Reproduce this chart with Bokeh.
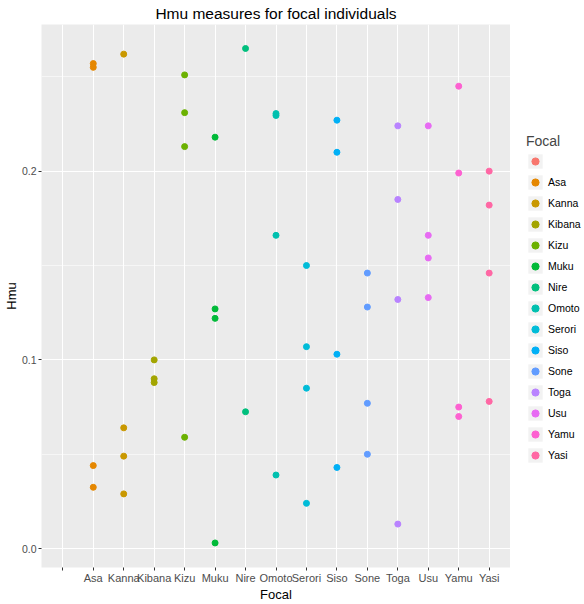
from bokeh.plotting import figure
from bokeh.layouts import row
from bokeh.models import FactorRange, Range1d, FixedTicker, Legend, LegendItem
from bokeh.embed import file_html
from bokeh.resources import INLINE
from bokeh.core.properties import value

categories = [" ", "Asa", "Kanna", "Kibana", "Kizu", "Muku", "Nire", "Omoto",
              "Serori", "Siso", "Sone", "Toga", "Usu", "Yamu", "Yasi"]
colors = ["#F8766D", "#E58700", "#C99800", "#A3A500", "#6BB100", "#00BA38",
          "#00BF7D", "#00C0AF", "#00BCD8", "#00B0F6", "#619CFF", "#B983FF",
          "#E76BF3", "#FD61D1", "#FF67A4"]

focal = (["Asa"] * 4 + ["Kanna"] * 4 + ["Kibana"] * 3 + ["Kizu"] * 4 +
         ["Muku"] * 4 + ["Nire"] * 2 + ["Omoto"] * 4 + ["Serori"] * 4 +
         ["Siso"] * 4 + ["Sone"] * 4 + ["Toga"] * 4 + ["Usu"] * 4 +
         ["Yamu"] * 4 + ["Yasi"] * 4)
hmu = [0.257, 0.255, 0.044, 0.0325,
       0.262, 0.064, 0.049, 0.029,
       0.100, 0.090, 0.088,
       0.251, 0.231, 0.213, 0.059,
       0.218, 0.127, 0.122, 0.003,
       0.265, 0.0725,
       0.2305, 0.2295, 0.166, 0.039,
       0.150, 0.107, 0.085, 0.024,
       0.227, 0.210, 0.103, 0.043,
       0.146, 0.128, 0.077, 0.050,
       0.224, 0.185, 0.132, 0.013,
       0.224, 0.166, 0.154, 0.133,
       0.245, 0.199, 0.075, 0.070,
       0.200, 0.182, 0.146, 0.078]

y_ticks = [0.0, 0.1, 0.2]
y_minor = [0.05, 0.15, 0.25]
y_tick_labels = ["0.0", "0.1", "0.2"]

FONT = "Liberation Sans"
NAN = float("nan")

p = figure(width=510, height=604, output_backend="svg", toolbar_location=None,
           x_range=FactorRange(factors=categories, range_padding=0.2,
                               range_padding_units="absolute"),
           y_range=Range1d(-0.0100, 0.2777),
           title="Hmu measures for focal individuals",
           min_border_left=38, min_border_right=0, min_border_top=24,
           min_border_bottom=0)

p.background_fill_color = "#EBEBEB"
p.border_fill_color = "white"
p.outline_line_color = None

p.title.align = "center"
p.title.text_font = FONT
p.title.text_font_size = "15.5px"
p.title.text_font_style = "normal"
p.title.text_color = "black"
p.title.standoff = 5

p.yaxis.ticker = FixedTicker(ticks=y_ticks, minor_ticks=y_minor)
p.yaxis.major_label_overrides = {t: l for t, l in zip(y_ticks, y_tick_labels)}

for ax in (p.xaxis[0], p.yaxis[0]):
    ax.axis_line_color = None
    ax.major_tick_line_color = "#333333"
    ax.major_tick_out = 3
    ax.major_tick_in = 0
    ax.minor_tick_line_color = None
    ax.major_label_text_font = FONT
    ax.major_label_text_font_size = "11px"
    ax.major_label_text_color = "#4D4D4D"
    ax.major_label_text_line_height = 1.0
    ax.major_label_standoff = 1
    ax.axis_label_text_font = FONT
    ax.axis_label_text_font_size = "13px"
    ax.axis_label_text_font_style = "normal"
    ax.axis_label_text_color = "black"
    ax.axis_label_text_line_height = 1.0
    ax.axis_label_standoff = 0

p.yaxis.major_label_text_font_size = "10.5px"
p.xaxis.axis_label = "Focal"
p.yaxis.axis_label = "Hmu"

p.xgrid.grid_line_color = "white"
p.xgrid.grid_line_width = 1.1
p.ygrid.grid_line_color = "white"
p.ygrid.grid_line_width = 1.1
p.ygrid.minor_grid_line_color = "white"
p.ygrid.minor_grid_line_width = 0.55

for cat, col in zip(categories, colors):
    xs = [f for f in focal if f == cat]
    ys = [h for f, h in zip(focal, hmu) if f == cat]
    if xs:
        p.scatter(x=xs, y=ys, size=6, fill_color=col, line_color=col)

# legend panel
lg = figure(width=74, height=604, output_backend="svg", toolbar_location=None,
            x_range=Range1d(0, 1), y_range=Range1d(0, 1),
            x_axis_type=None, y_axis_type=None,
            min_border_left=0, min_border_right=0, min_border_top=0,
            min_border_bottom=0)
lg.grid.visible = False
lg.outline_line_color = None
lg.background_fill_color = "white"
lg.border_fill_color = "white"

items = []
for cat, col in zip(categories, colors):
    bg = lg.quad(left=[NAN], right=[NAN], top=[NAN], bottom=[NAN],
                 fill_color="#F2F2F2", line_color=None)
    r = lg.scatter(x=[NAN], y=[NAN], size=6, fill_color=col, line_color=col)
    items.append(LegendItem(label=value(cat), renderers=[bg, r]))

legend = Legend(items=items, title="Focal", location=(16, 103))
legend.title_text_font = FONT
legend.title_text_font_size = "14px"
legend.title_text_font_style = "normal"
legend.title_standoff = 3
legend.label_text_font = FONT
legend.label_text_font_size = "10.5px"
legend.label_text_color = "black"
legend.glyph_width = 18
legend.glyph_height = 18
legend.label_height = 18
legend.label_standoff = 4
legend.spacing = 3
legend.padding = 0
legend.margin = 0
legend.background_fill_alpha = 0
legend.border_line_color = None
lg.add_layout(legend, "center")

layout = row(p, lg, spacing=0)
open("out.html", "w").write(file_html(layout, INLINE))
